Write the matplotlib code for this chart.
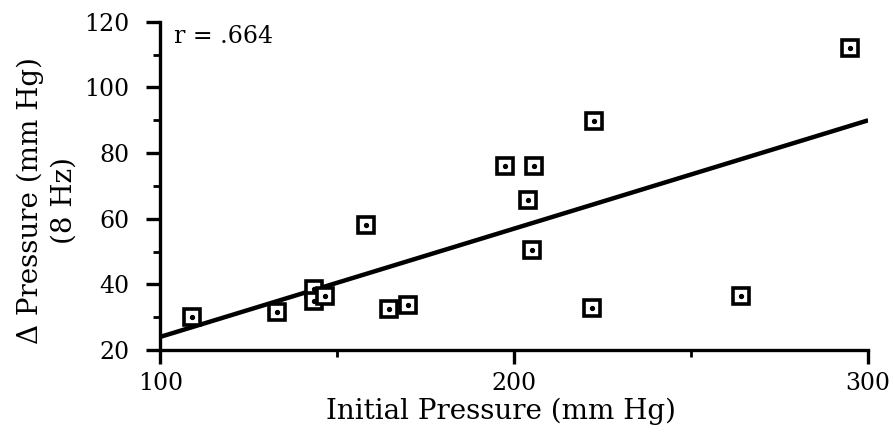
import matplotlib
matplotlib.use("Agg")
import matplotlib.pyplot as plt
import numpy as np

# values
initial_p = [109, 133, 143.5, 143.5, 146.5, 158, 164.5, 170, 197.5, 205.5, 204, 205, 222.5, 222, 264, 295]
delta_p = [30, 31.5, 38.5, 34.8, 36.5, 58, 32.5, 33.7, 76, 76, 65.7, 50.5, 89.8, 32.8, 36.5, 112]
fit_x = [100, 300]
fit_y = [24, 90]
r_text = "r = .664"

plt.rcParams['font.family'] = ['DejaVu Serif']
plt.rcParams['xtick.major.pad'] = 6
plt.rcParams['ytick.major.pad'] = 12

fig = plt.figure(figsize=(8.95, 4.37), dpi=100)
ax = fig.add_axes([0.179, 0.199, 0.791, 0.751])

ax.plot(fit_x, fit_y, color='black', linewidth=3.2, solid_capstyle='butt', zorder=2)
ax.plot(initial_p, delta_p, linestyle='none', marker='s', markersize=12,
        markerfacecolor='white', markeredgecolor='black', markeredgewidth=2.6, zorder=3)
ax.plot(initial_p, delta_p, linestyle='none', marker='o', markersize=2.8,
        color='black', zorder=4)

ax.set_xlim(100, 300)
ax.set_ylim(20, 120)
ax.set_xticks([100, 200, 300])
ax.set_xticks([150, 250], minor=True)
ax.set_yticks([20, 40, 60, 80, 100, 120])
ax.set_yticks([30, 50, 70, 90, 110], minor=True)

for side in ['top', 'right']:
    ax.spines[side].set_visible(False)
for side in ['left', 'bottom']:
    ax.spines[side].set_linewidth(2.4)

ax.tick_params(which='major', direction='out', length=10, width=2.4)
ax.tick_params(which='minor', direction='out', length=5, width=2.0)
for lab in ax.get_xticklabels() + ax.get_yticklabels():
    lab.set_fontsize(17)

ax.set_xlabel("Initial Pressure (mm Hg)", fontsize=20, labelpad=2, x=0.482)
ax.set_ylabel("Δ Pressure (mm Hg)\n(8 Hz)", fontsize=20, labelpad=5,
              linespacing=1.3, y=0.455)

ax.text(0.02, 0.99, r_text, transform=ax.transAxes, fontsize=17, va='top', ha='left')

fig.savefig("out.png", dpi=100)
